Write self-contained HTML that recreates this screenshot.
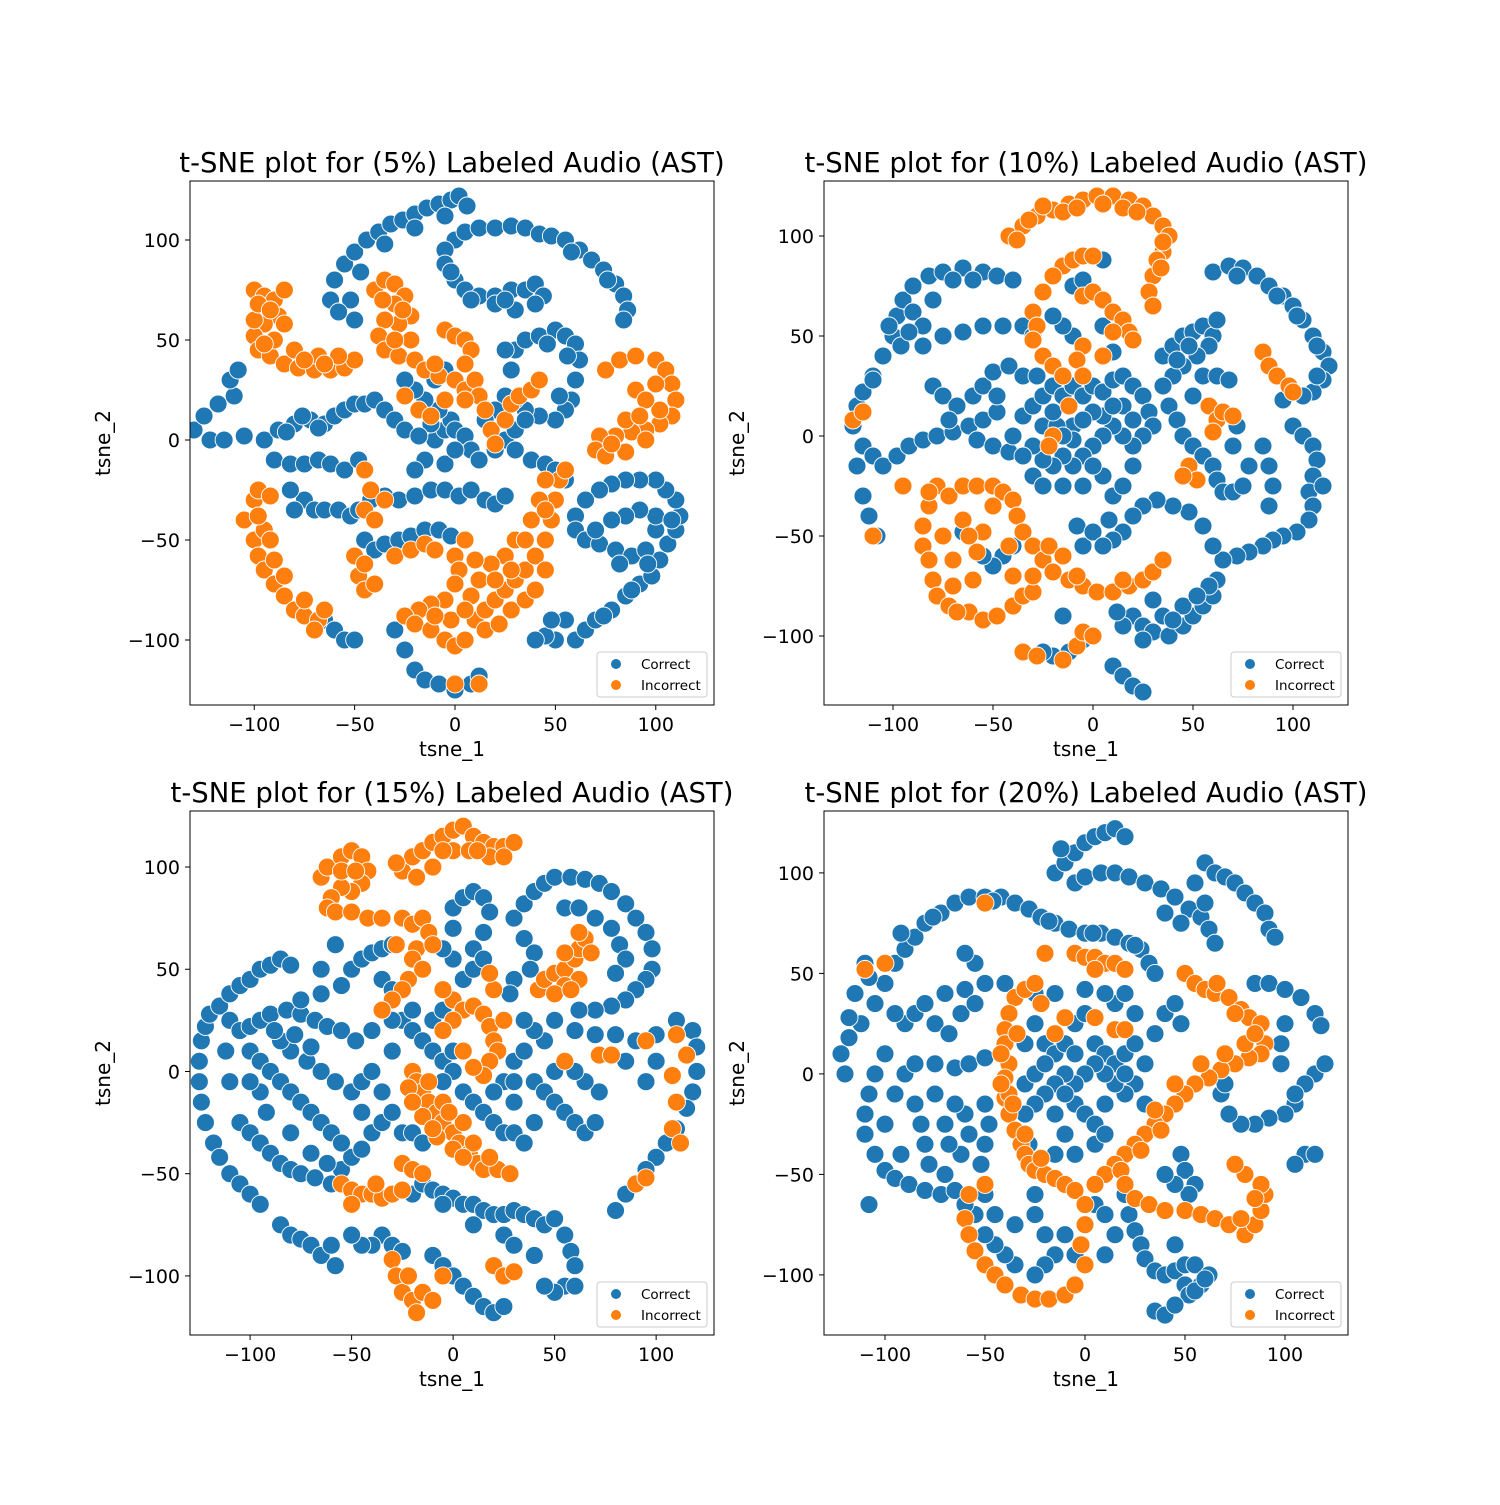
<!DOCTYPE html>
<html><head><meta charset="utf-8"><style>
html,body{margin:0;padding:0;background:#fff}
svg text{font-family:"DejaVu Sans","Liberation Sans",sans-serif;fill:#000}
</style></head><body>
<svg id="chart" width="1500" height="1500" xmlns="http://www.w3.org/2000/svg"></svg>
<script>
const titles = ["t-SNE plot for (5%) Labeled Audio (AST)","t-SNE plot for (10%) Labeled Audio (AST)","t-SNE plot for (15%) Labeled Audio (AST)","t-SNE plot for (20%) Labeled Audio (AST)"];
const xTicks = [-100,-50,0,50,100];
const yTicks = [-100,-50,0,50,100];
const legendLabels = ["Correct","Incorrect"];

const correct1 = [[-62,70],[-60,80],[-55,88],[-50,94],[-44,100],[-38,104],[-32,108],[-26,110],[-20,113],[-14,116],[-8,118],[-2,120],[2,122],[6,117],[-50,60],[-52,70],[-58,64],[-47,84],[-35,98],[-20,106],[-5,112],
[0,100],[5,104],[12,106],[20,106],[28,107],[35,106],[42,103],[48,102],[55,100],[62,95],[68,90],[74,85],[80,78],[84,72],[86,65],[84,60],[58,94],[76,80],
[-5,95],[-5,88],[0,80],[5,75],[12,72],[20,72],[28,75],[35,75],[40,78],[44,72],[40,68],[30,65],[20,68],[-2,84],[8,70],[25,70],
[30,45],[35,50],[42,52],[50,55],[55,52],[60,48],[62,40],[60,30],[58,20],[55,15],[50,10],[42,12],[35,15],[30,20],[25,22],[20,15],[15,10],[28,35],[25,45],[56,42],[46,48],[52,22],
[-130,5],[-125,12],[-118,18],[-110,22],[-112,30],[-108,35],[-122,0],[-115,0],[-105,2],[-95,0],[-88,5],[-80,8],[-72,10],[-65,8],[-60,12],[-55,15],[-50,18],[-45,18],[-40,20],[-35,15],[-30,10],[-25,5],[-84,4],[-76,12],[-68,6],
[-90,-10],[-82,-12],[-75,-12],[-68,-10],[-62,-12],[-55,-15],[-48,-10],
[-75,-30],[-70,-35],[-65,-35],[-58,-35],[-52,-38],[-48,-35],[-42,-30],[-35,-28],[-28,-30],[-20,-28],[-12,-25],[-5,-25],[2,-28],[8,-25],[15,-30],[20,-32],[25,-28],[-82,-25],[-80,-35],
[-10,0],[-5,5],[-2,10],[-8,15],[-15,20],[-20,25],[-25,30],[-10,30],[-5,35],[0,5],[5,2],[8,-5],[12,-10],[-15,-10],[-20,-15],[-5,-12],[20,-5],[25,0],[30,5],[35,10],[-12,8],[0,-5],[-18,2],
[-45,-50],[-40,-55],[-35,-52],[-28,-50],[-22,-48],[-15,-45],[-8,-45],[-2,-48],
[60,-100],[65,-95],[70,-90],[78,-85],[85,-78],[92,-72],[98,-68],[102,-60],[106,-52],[110,-45],[112,-38],[110,-30],[105,-25],[100,-20],[92,-20],[85,-20],[78,-22],[72,-25],[65,-30],[60,-38],[60,-45],[65,-50],[72,-52],[80,-55],[88,-58],[95,-55],[100,-45],[100,-38],[92,-35],[85,-38],[78,-40],[50,-100],[45,-98],[40,-100],[55,-90],[48,-90],[74,-88],[88,-75],[96,-62],[108,-40],[70,-45],[82,-62],
[-30,-95],[-25,-105],[-20,-115],[-15,-120],[-8,-122],[0,-125],[8,-122],[12,-118],
[-65,-90],[-60,-95],[-55,-100],[-50,-100],[30,-5],[38,-10],[45,-12],[50,-15],[55,-20]];
const incorrect1 = [[-100,75],[-95,72],[-90,70],[-88,62],[-95,58],[-100,52],[-98,45],[-92,42],[-85,38],[-78,36],[-70,35],[-62,35],[-55,36],[-50,40],[-58,42],[-68,42],[-80,45],[-90,50],[-100,60],[-98,68],[-85,75],[-85,58],[-92,65],[-75,40],[-65,38],[-95,48],
[-40,75],[-35,80],[-30,78],[-25,72],[-22,62],[-28,58],[-35,60],[-38,52],[-35,45],[-28,42],[-20,40],[-15,35],[-8,32],[0,30],[5,25],[-30,68],[-22,50],[-10,38],[-36,70],[-26,65],[-30,50],
[-5,55],[0,52],[5,50],[8,45],[5,38],[10,30],[12,22],[5,20],[-5,20],[-25,22],[-18,15],[-12,12],
[15,15],[18,5],[20,-2],[25,10],[28,18],[32,22],[38,25],[42,30],
[75,35],[82,40],[90,42],[100,40],[105,35],[108,28],[110,20],[108,12],[102,8],[95,5],[88,4],[80,2],[72,2],[70,-5],[75,-8],[85,-6],[95,0],[102,15],[90,25],[95,20],[85,10],[100,28],[92,12],[78,-2],
[-105,-40],[-100,-30],[-98,-25],[-92,-28],[-100,-50],[-98,-58],[-95,-65],[-90,-72],[-85,-78],[-80,-85],[-75,-88],[-68,-90],[-65,-85],[-75,-80],[-85,-68],[-90,-60],[-95,-45],[-70,-95],[-98,-38],[-92,-50],
[-45,-15],[-42,-25],[-45,-35],[-40,-40],[-35,-30],
[-50,-58],[-48,-68],[-45,-75],[-40,-72],[-30,-58],[-22,-55],[-15,-52],[-10,-55],[-45,-62],
[5,-50],[0,-58],[2,-65],[0,-72],[-5,-80],[-12,-82],[-18,-85],[-25,-88],[-20,-92],[-12,-95],[-5,-100],[0,-103],[5,-100],[10,-90],[15,-85],[20,-80],[25,-75],[30,-70],[35,-65],[40,-58],[45,-50],[48,-40],[50,-30],[52,-20],[55,-15],[45,-20],[42,-30],[38,-40],[30,-50],[25,-58],[18,-62],[12,-70],[8,-78],[15,-95],[22,-92],[28,-85],[35,-80],[40,-75],[45,-65],[10,-60],[-2,-90],[-10,-88],[0,-122],[12,-122],[35,-50],[45,-35],[28,-65],[20,-70],[5,-85]];

const correct2 = [[-110,30],[-105,40],[-100,50],[-98,60],[-95,68],[-90,75],[-82,80],[-75,82],[-65,84],[-55,82],[-48,80],[-40,78],[-102,55],[-90,62],[-85,55],[-75,50],[-65,52],[-55,55],[-45,55],[-35,55],[-30,50],[-85,45],[-96,45],[-92,52],[-80,68],[-70,78],[-60,78],
[-120,5],[-118,15],[-115,22],[-110,28],[-118,-15],[-115,-5],[-110,-10],[-105,-15],[-98,-10],[-92,-5],[-85,-2],[-78,0],[-70,2],[-62,5],[-55,8],[-48,12],[-115,-30],[-112,-40],[-108,-50],
[-80,25],[-75,20],[-68,15],[-60,20],[-55,25],[-50,32],[-42,35],[-35,30],[-58,-2],[-50,-5],[-42,-8],[-72,8],[-48,20],
[-40,0],[-35,10],[-30,15],[-25,20],[-20,25],[-15,20],[-10,25],[-5,20],[0,25],[5,22],[10,28],[15,30],[20,25],[25,20],[28,12],[30,5],[25,0],[20,-5],[15,0],[10,5],[5,0],[0,-5],[-5,-10],[-10,-15],[-15,-10],[-20,-15],[-25,-12],[-30,-5],[-35,-10],[-25,5],[-10,5],[5,10],[0,12],[15,15],[-15,-25],[-5,-25],[5,-20],[10,-30],[15,-25],[20,-15],[-8,-45],[-5,-55],[0,-48],[8,-42],[-30,-20],[-28,30],[-18,5],[-10,-2],[-20,12],[-5,8],[10,15],[20,8],[-15,0],[0,-15],[-25,-25],
[-10,75],[-5,78],[0,72],[5,88],[-10,50],[-15,55],[-20,60],[5,55],[10,42],
[35,40],[40,45],[45,50],[50,52],[55,55],[60,50],[62,58],[58,45],[52,40],[45,35],[40,30],[35,25],[38,15],[42,8],[45,0],[50,-5],[55,-10],[60,-15],[62,-22],[65,-28],[70,-28],[75,-25],[78,-15],[48,45],[42,38],[50,20],[55,30],
[60,82],[68,85],[75,84],[82,80],[88,75],[95,70],[100,65],[105,58],[110,50],[115,42],[118,35],[115,28],[110,22],[105,20],[95,18],[100,5],[105,0],[110,-5],[112,-12],[110,-20],[108,-28],[110,-35],[108,-42],[102,-48],[95,-50],[90,-52],[85,-55],[78,-58],[72,-60],[65,-62],[60,-55],[55,-45],[48,-38],[40,-35],[32,-32],[25,-35],[20,-40],[15,-48],[10,-52],[5,-55],[72,80],[92,70],[102,60],[112,45],[112,30],[115,-25],
[85,-5],[88,-15],[90,-25],[88,-35],[70,-5],[72,5],[62,30],[68,28],
[20,-90],[25,-95],[30,-98],[38,-100],[45,-95],[50,-90],[55,-85],[60,-80],[62,-72],[58,-75],[45,-85],[35,-90],[25,-102],[15,-95],[12,-88],[30,-82],[40,-92],[52,-80],
[10,-115],[15,-120],[20,-125],[25,-128],[-5,-102],[-12,-108],[-20,-110],[-25,-108],[-40,-55],[-45,-60],[-50,-65],[-55,-60],[-65,-48],[-15,-90]];
const incorrect2 = [[-42,100],[-35,105],[-28,110],[-20,113],[-12,116],[-5,118],[2,120],[10,120],[18,118],[25,115],[30,110],[35,105],[38,100],[35,92],[32,88],[30,80],[28,72],[30,65],[-38,98],[-25,115],[15,114],[35,97],[-32,108],[-15,112],[-8,114],[5,116],[22,112],[34,84],
[-15,85],[-10,88],[-5,90],[0,90],[-20,80],[-25,72],[-30,62],[-28,55],[-30,48],[-25,40],[-20,35],[-15,30],
[-5,70],[0,72],[5,68],[10,62],[15,58],[18,52],[20,48],[10,52],[5,40],[-5,45],[-8,38],[-5,30],[-12,15],
[85,42],[88,35],[92,30],[98,25],[100,22],[58,15],[62,8],[65,12],[70,10],[60,2],[-20,0],[-22,-5],[48,-15],[52,-22],[45,-20],
[-78,-25],[-82,-35],[-85,-45],[-85,-55],[-82,-62],[-80,-72],[-78,-80],[-72,-85],[-62,-88],[-55,-92],[-48,-90],[-40,-85],[-35,-80],[-30,-78],[-72,-30],[-65,-25],[-58,-25],[-50,-25],[-45,-28],[-40,-32],[-38,-40],[-35,-48],[-30,-55],[-25,-62],[-20,-68],[-12,-72],[-5,-75],[2,-78],[10,-78],[18,-75],[25,-72],[30,-68],[35,-62],[-75,-50],[-65,-42],[-55,-48],[-58,-58],[-60,-72],[-70,-62],[-22,-55],[-15,-60],[-40,-70],[-30,-70],[-82,-28],[-68,-88],[-50,-35],[-62,-50],[-70,-75],[-42,-55],[-8,-70],[15,-72],
[-120,8],[-115,12],[-110,-50],[-95,-25],[-35,-108],[-28,-110],[-15,-112],[-8,-105],[-5,-98],[0,-100]];

const correct3 = [[-125,5],[-124,15],[-122,22],[-120,28],[-115,32],[-110,38],[-105,42],[-100,45],[-95,50],[-90,52],[-85,55],[-80,52],[-125,-5],[-124,-15],[-122,-25],[-118,-35],[-115,-42],[-110,-50],[-105,-55],[-100,-60],[-95,-65],[-85,-75],[-80,-80],[-75,-82],[-70,-85],[-65,-90],[-58,-95],
[-110,25],[-105,20],[-100,22],[-95,25],[-90,28],[-82,30],[-75,28],[-68,25],[-62,22],[-55,20],[-48,15],[-100,10],[-95,5],[-90,0],[-85,-5],[-80,-10],[-75,-15],[-70,-20],[-65,-25],[-60,-30],[-105,-25],[-100,-30],[-95,-35],[-90,-40],[-85,-45],[-80,-48],[-75,-50],[-68,-52],[-60,-55],[-55,-48],[-50,-42],[-45,-38],[-40,-30],[-35,-25],[-30,-20],[-95,-10],[-100,-5],[-110,-5],[-112,10],[-80,10],[-72,5],[-65,0],[-58,-5],[-50,-10],[-45,-20],[-85,15],[-75,35],[-65,38],[-55,42],[-50,50],[-45,55],[-40,58],[-35,60],[-30,62],[-58,62],[-65,50],[-88,20],[-78,18],[-70,12],[-92,-20],[-80,-30],[-70,-40],[-62,-45],[-55,-35],[-45,-5],
[-35,45],[-30,40],[-25,25],[-20,20],[-15,15],[-10,10],[-5,5],[0,0],[-5,-5],[0,10],[5,-10],[10,-15],[15,-20],[20,-25],[25,-30],[30,-30],[35,-35],[40,-25],[30,-15],[25,-5],[30,5],[35,10],[40,-5],[45,-10],[50,-15],[55,-20],[60,-25],[65,-30],[70,-25],[72,-10],[65,-5],[60,0],[45,15],[40,20],[35,25],[-40,20],[-30,10],[-25,-30],[-10,25],[-5,30],[5,45],[10,50],[0,55],[-5,60],[0,70],[0,80],[5,85],[10,88],[15,85],[18,78],[15,68],[10,60],[15,55],[-40,0],[-35,-10],[-20,-30],[-15,-35],[-30,25],[-20,30],[30,-5],[50,0],[20,-10],
[30,75],[35,82],[40,88],[45,92],[50,95],[58,95],[65,94],[72,92],[78,88],[85,82],[90,75],[95,68],[98,60],[98,50],[95,45],[90,40],[85,35],[78,32],[70,30],[62,30],[35,65],[40,58],[38,50],[30,45],[28,38],[55,80],[62,80],[70,75],[78,70],[82,62],[85,55],[80,48],
[50,25],[60,20],[70,18],[80,18],[90,15],[100,18],[110,25],[118,20],[120,12],[120,0],[118,-10],[115,-18],[110,-28],[105,-35],[100,-42],[95,-48],[90,-55],[85,-60],[80,-68],[85,5],[100,5],[95,-5],
[-35,-80],[-30,-85],[-25,-88],[-40,-85],[-45,-85],[-20,-60],[-15,-55],[-10,-58],[-5,-60],[0,-62],[5,-65],[10,-65],[15,-68],[20,-70],[25,-70],[30,-68],[35,-70],[40,-72],[45,-75],[50,-72],[55,-80],[58,-88],[60,-95],[55,-105],[50,-108],[45,-105],[-10,-90],[-5,-95],[0,-100],[5,-105],[10,-110],[15,-115],[20,-118],[25,-115],[-5,-65],[10,-75],[25,-80],[30,-85],[40,-90],[60,-105],[-60,-85],[-50,-80]];
const incorrect3 = [[-65,95],[-62,100],[-55,105],[-50,108],[-45,105],[-42,98],[-45,92],[-50,88],[-55,90],[-60,85],[-62,80],[-58,78],[-50,78],[-42,75],[-35,75],[-25,75],[-20,72],[-55,98],[-48,98],
[-25,98],[-20,105],[-15,108],[-10,112],[-5,115],[0,118],[5,120],[10,115],[15,112],[20,110],[25,110],[30,112],[-18,95],[-10,100],[0,108],[8,108],[18,105],[-28,102],[-5,108],[12,108],[25,105],
[-15,75],[-12,68],[-18,60],[-20,55],[-22,45],[-25,40],[-30,35],[-35,30],[-15,50],[-10,62],[-28,62],
[0,35],[5,30],[10,32],[15,28],[18,22],[20,15],[22,10],[18,5],[15,-2],[10,2],[5,10],[0,25],[-5,40],[20,40],[18,48],[-5,20],
[-20,0],[-18,-5],[-15,-10],[-12,-15],[-8,-20],[-5,-25],[0,-30],[3,-35],[8,-40],[12,-45],[15,-48],[22,-48],[28,-50],[-22,-8],[-15,-22],[-8,-32],[0,-38],[-12,-5],[-5,-15],[5,-25],[10,-35],[18,-42],[-20,-15],[-10,-28],[5,-42],[-2,-20],
[-25,-45],[-20,-48],[-15,-50],[-55,-55],[-50,-58],[-45,-60],[-40,-60],[-35,-62],[-30,-60],[-25,-58],[-50,-65],[-38,-55],
[42,40],[45,45],[50,48],[55,50],[60,55],[62,60],[65,65],[68,58],[62,45],[55,42],[50,38],[58,40],[62,68],[55,58],
[25,25],[55,5],[72,8],[78,8],[95,15],[110,18],[115,8],[108,-2],[110,-15],[108,-28],[112,-35],[90,-55],[95,-52],
[-30,-92],[-28,-100],[-25,-108],[-20,-112],[-15,-108],[-18,-118],[-10,-112],[-22,-100],[-5,-100],[20,-95],[25,-100],[30,-98]];

const correct4 = [[-15,100],[-10,105],[-5,110],[0,115],[5,118],[10,120],[15,122],[20,118],[-12,112],
[-120,0],[-122,10],[-118,18],[-112,25],[-105,35],[-100,45],[-95,55],[-90,62],[-85,68],[-80,75],[-72,80],[-65,85],[-58,88],[-50,88],[-42,88],[-35,85],[-28,82],[-22,78],[-15,75],[-8,72],[0,70],[8,70],[15,68],[22,65],[28,62],[32,55],[35,50],[-110,55],[-115,40],[-108,48],[-118,28],[-92,70],[-76,78],[-46,86],[-18,76],[4,70],[25,64],
[-5,95],[0,98],[8,100],[15,100],[22,98],[30,95],[38,92],[45,88],[52,82],[58,78],[62,72],[65,65],[40,80],[48,75],
[60,105],[65,100],[70,98],[75,95],[80,90],[85,85],[90,80],[92,72],[95,68],[60,85],[55,95],
[85,45],[92,45],[100,42],[108,38],[115,30],[118,24],[115,0],[110,-5],[120,5],[105,-15],[100,-20],[92,-22],[85,-25],[78,-25],[72,-20],[68,-10],[70,-5],[100,25],[98,15],[98,5],[105,-10],[110,-40],[115,-40],[105,-45],
[-100,10],[-105,0],[-108,-10],[-110,-20],[-110,-30],[-105,-40],[-100,-48],[-95,-52],[-88,-55],[-80,-58],[-72,-60],[-65,-58],[-95,-10],[-90,0],[-85,5],[-75,5],[-65,3],[-58,5],[-50,8],[-85,-15],[-82,-25],[-80,-35],[-78,-45],[-70,-50],[-62,-40],[-58,-30],[-60,-20],[-65,-15],[-70,-25],[-75,-10],[-90,25],[-85,30],[-80,35],[-70,40],[-60,42],[-50,45],[-40,45],[-75,25],[-68,20],[-62,30],[-55,35],[-52,-45],[-50,-35],[-48,-25],[-50,-15],[-55,55],[-60,60],[-108,-65],[-95,30],[-100,-25],[-92,-40],[-68,-35],
[-25,25],[-20,15],[-15,10],[-10,15],[-5,25],[0,30],[5,15],[10,10],[15,5],[20,10],[25,15],[30,5],[25,-5],[20,-10],[15,-5],[10,0],[5,5],[0,0],[-5,-5],[-10,0],[-15,-5],[-20,-10],[-25,-15],[-30,-5],[-25,0],[-5,-15],[0,-20],[5,-25],[-15,-20],[-10,-30],[35,20],[40,30],[45,35],[48,25],[25,30],[15,35],[-30,15],[-30,-20],[-15,-40],[-5,-40],[5,-35],[10,-30],[30,-15],[-25,40],[-15,40],[0,42],[10,40],[20,40],[-20,5],[-28,-35],[-10,-10],[10,-15],[20,0],[-5,10],
[20,-60],[22,-70],[25,-78],[28,-85],[30,-92],[35,-98],[40,-100],[45,-98],[50,-95],[55,-95],[50,-105],[52,-110],[58,-105],[62,-100],[45,-85],[48,-40],[50,-48],[55,-55],[52,-60],[45,-55],[40,-50],[5,-65],[10,-70],[15,-80],[-10,-80],[-15,-90],[-20,-95],[-25,-100],[-35,-95],[-40,-90],[-45,-85],[-50,-80],[-55,-70],[-60,-65],[-50,-60],[-45,-70],[-35,-75],[-25,-70],[-20,-80],[-5,-90],[10,-90],[35,-118],[40,-120],[45,-115],[55,-108],[60,-102],[-25,-60]];
const incorrect4 = [[-50,85],[-20,60],[-5,60],[0,58],[5,58],[10,55],[15,55],[20,52],[5,52],[-110,52],[-100,55],
[-35,38],[-38,30],[-40,22],[-40,15],[-38,5],[-40,-2],[-40,-12],[-38,-20],[-35,-28],[-32,-35],[-30,-40],[-28,-45],[-25,-48],[-20,-50],[-15,-52],[-10,-55],[-5,-58],[-42,10],[-38,-10],[-30,-30],[-22,-42],[-30,42],[-25,45],[-22,35],[-15,20],[-10,28],[5,28],[15,22],[20,22],[-42,-5],[-36,-15],[-34,20],
[50,50],[55,45],[60,42],[65,40],[72,38],[78,32],[82,28],[88,25],[90,15],[88,10],[82,8],[75,5],[68,2],[62,-2],[55,-5],[50,-10],[45,-15],[40,-20],[35,-25],[30,-30],[25,-35],[20,-40],[15,-45],[10,-50],[5,-55],[70,10],[80,15],[58,5],[45,-5],[38,-28],[28,-38],[18,-48],[35,-18],[85,20],[75,30],[66,45],
[20,-55],[25,-62],[32,-65],[40,-68],[50,-68],[58,-70],[65,-72],[72,-75],[80,-80],[85,-75],[88,-68],[90,-60],[88,-55],[80,-50],[75,-45],[85,-62],[78,-72],
[-60,-72],[-58,-80],[-55,-88],[-50,-95],[-45,-100],[-40,-105],[-32,-110],[-25,-112],[-18,-112],[-10,-110],[-5,-105],[0,-95],[-2,-85],[0,-75],[0,-65],[-50,-55],[-58,-60]];

const panels = [
 {L:190,T:181,W:524,H:524,x0:-132,x1:129,y0:-132.5,y1:129.5,c:correct1,i:incorrect1},
 {L:824,T:181,W:524,H:524,x0:-134.5,x1:127.5,y0:-134.5,y1:127.5,c:correct2,i:incorrect2},
 {L:190,T:811,W:524,H:524,x0:-129.6,x1:128.5,y0:-128.9,y1:127.4,c:correct3,i:incorrect3},
 {L:824,T:811,W:524,H:524,x0:-130.5,x1:131.5,y0:-129.9,y1:130.8,c:correct4,i:incorrect4}
];
const NS="http://www.w3.org/2000/svg";
const svg=document.getElementById('chart');
function mk(tag,attrs,parent){const e=document.createElementNS(NS,tag);for(const k in attrs)e.setAttribute(k,attrs[k]);(parent||svg).appendChild(e);return e;}
const BLUE="#1f77b4", ORANGE="#ff7f0e";
panels.forEach((p,k)=>{
  const g=mk('g',{});
  
  
  const sx=v=>p.L+(v-p.x0)/(p.x1-p.x0)*p.W;
  const sy=v=>p.T+p.H-(v-p.y0)/(p.y1-p.y0)*p.H;
  const clip=mk('clipPath',{id:'clip'+k},g);
  mk('rect',{x:p.L,y:p.T,width:p.W,height:p.H},clip);
  const pts=mk('g',{'clip-path':'url(#clip'+k+')'},g);
  
  
  [[p.c,BLUE,'correct-point'],[p.i,ORANGE,'incorrect-point']].forEach(([arr,col,nm])=>{
    arr.forEach(d=>{
      const c=mk('circle',{cx:sx(d[0]),cy:sy(d[1]),r:9,fill:col,stroke:'#fff','stroke-width':0.9},pts);
      
      
    });
  });
  const fr=mk('rect',{x:p.L,y:p.T,width:p.W,height:p.H,fill:'none',stroke:'#000','stroke-width':1},g);
  
  
  xTicks.forEach(t=>{
    const x=sx(t);
    mk('line',{x1:x,x2:x,y1:p.T+p.H,y2:p.T+p.H+5,stroke:'#000'},g);
    const tx=mk('text',{x:x,y:p.T+p.H+26,'font-size':19,'text-anchor':'middle'},g);
    tx.textContent=(t<0?'\u2212'+(-t):t);
    
    
  });
  yTicks.forEach(t=>{
    const y=sy(t);
    mk('line',{x1:p.L-5,x2:p.L,y1:y,y2:y,stroke:'#000'},g);
    const tx=mk('text',{x:p.L-10,y:y+7,'font-size':19,'text-anchor':'end'},g);
    tx.textContent=(t<0?'\u2212'+(-t):t);
    
    
  });
  const xl=mk('text',{x:p.L+p.W/2,y:p.T+p.H+51,'font-size':20,'text-anchor':'middle'},g);
  xl.textContent='tsne_1';
  
  
  const yl=mk('text',{x:0,y:0,'font-size':20,'text-anchor':'middle',transform:'translate('+(p.L-80)+','+(p.T+p.H/2)+') rotate(-90)'},g);
  yl.textContent='tsne_2';
  
  
  const tt=mk('text',{x:p.L+p.W/2,y:p.T-9,'font-size':27.5,'text-anchor':'middle'},g);
  tt.textContent=titles[k];
  
  
  const lg=mk('g',{},g);
  
  
  const lx=p.L+p.W-117, ly=p.T+p.H-53;
  mk('rect',{x:lx,y:ly,width:110,height:45,rx:3,fill:'#fff','fill-opacity':0.8,stroke:'#ccc'},lg);
  legendLabels.forEach((lab,j)=>{
    const e=mk('g',{},lg);
    
    
    mk('circle',{cx:lx+19,cy:ly+12+j*21,r:5,fill:j?ORANGE:BLUE},e);
    const t=mk('text',{x:lx+44,y:ly+17+j*21,'font-size':13.5},e);
    t.textContent=lab;
  });
});
</script>
</body></html>
